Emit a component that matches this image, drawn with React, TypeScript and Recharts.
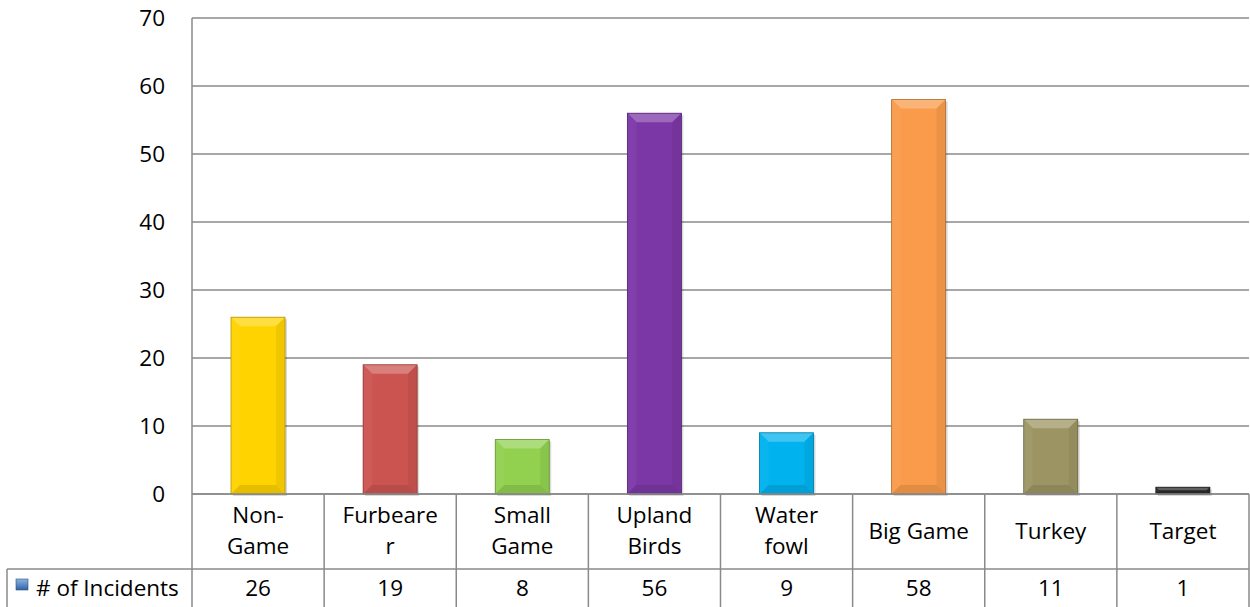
import { BarChart, Bar, XAxis, YAxis, CartesianGrid, Cell } from 'recharts'

const categories = [
  'Non-\nGame',
  'Furbeare\nr',
  'Small\nGame',
  'Upland\nBirds',
  'Water\nfowl',
  'Big Game',
  'Turkey',
  'Target',
]
const incidents = [26, 19, 8, 56, 9, 58, 11, 1]
const barColors = ['#FFD300', '#CC5450', '#92D050', '#7B37A6', '#00B2EE', '#F99B4A', '#9C9563', '#2B2B2B']
const yTicks = [0, 10, 20, 30, 40, 50, 60, 70]
const seriesName = '# of Incidents'

const W = 1250
const H = 607
const AXIS_W = 192
const TABLE_H = 113
const RIGHT = 1
const cellW = (W - AXIS_W - RIGHT) / categories.length
const FONT = '"Open Sans", sans-serif'
const LINE = '#8a8a8a'

const data = categories.map((c, i) => ({ name: c, value: incidents[i] }))

function mix(hex: string, target: number, amt: number) {
  const n = parseInt(hex.slice(1), 16)
  const ch = [(n >> 16) & 255, (n >> 8) & 255, n & 255].map((v) =>
    Math.round(v + (target - v) * amt),
  )
  return `rgb(${ch[0]},${ch[1]},${ch[2]})`
}

// Excel style bevel: light top edge, soft sides, slightly darker bottom
function BevelBar(props: any) {
  const { x, y, width: w, height: h, fill } = props
  if (!h || h <= 0) return null
  const b = Math.min(9, h / 2, w / 2)
  return (
    <g>
      <rect x={x + 2} y={y + 2} width={w} height={h} fill="#000" opacity={0.15} />
      <rect x={x} y={y} width={w} height={h} fill={fill} />
      <polygon
        points={`${x},${y} ${x + w},${y} ${x + w - b},${y + b} ${x + b},${y + b}`}
        fill={mix(fill, 255, 0.25)}
      />
      <polygon
        points={`${x},${y} ${x + b},${y + b} ${x + b},${y + h - b} ${x},${y + h}`}
        fill={mix(fill, 255, 0.04)}
      />
      <polygon
        points={`${x + w},${y} ${x + w - b},${y + b} ${x + w - b},${y + h - b} ${x + w},${y + h}`}
        fill={mix(fill, 0, 0.06)}
      />
      <polygon
        points={`${x},${y + h} ${x + b},${y + h - b} ${x + w - b},${y + h - b} ${x + w},${y + h}`}
        fill={mix(fill, 0, 0.1)}
      />
      <rect x={x} y={y} width={w} height={h} fill="none" stroke={mix(fill, 0, 0.3)} strokeWidth={0.8} />
    </g>
  )
}

function TableTick(props: any) {
  const { x, y, payload, index } = props
  const lines = String(payload.value).split('\n')
  const mid = y + 75
  const bot = y + TABLE_H
  const left = x - cellW / 2
  const right = x + cellW / 2
  const textY = lines.length === 1 ? [y + 37] : [y + 21, y + 52]
  return (
    <g>
      {lines.map((t, i) => (
        <text key={i} x={x} y={textY[i]} dy="0.35em" textAnchor="middle" fontSize={22.5} fontFamily={FONT} fill="#000">
          {t}
        </text>
      ))}
      <text x={x} y={mid + 19} dy="0.35em" textAnchor="middle" fontSize={22.5} fontFamily={FONT} fill="#000">
        {incidents[index]}
      </text>
      <line x1={left} y1={mid} x2={right} y2={mid} stroke={LINE} strokeWidth={1.5} />
      <line x1={right} y1={y} x2={right} y2={bot} stroke={LINE} strokeWidth={1.5} />
      {index === 0 && (
        <g>
          <line x1={left} y1={y} x2={left} y2={bot} stroke={LINE} strokeWidth={1.5} />
          <line x1={7} y1={mid} x2={left} y2={mid} stroke={LINE} strokeWidth={1.5} />
          <line x1={7} y1={mid} x2={7} y2={bot} stroke={LINE} strokeWidth={1.5} />
          <defs>
            <linearGradient id="keyGrad" x1="0" y1="0" x2="0" y2="1">
              <stop offset="0%" stopColor="#8DB3E2" />
              <stop offset="100%" stopColor="#2F64A8" />
            </linearGradient>
          </defs>
          <rect x={16} y={mid + 10} width={12} height={11} fill="url(#keyGrad)" stroke="#2A4F80" strokeWidth={0.6} />
          <text x={36} y={mid + 19} dy="0.35em" textAnchor="start" fontSize={22.5} fontFamily={FONT} fill="#000">
            {seriesName}
          </text>
        </g>
      )}
    </g>
  )
}

export default function App() {
  return (
    <div style={{ position: 'absolute', left: 0, top: 0, background: '#fff' }}>
      <BarChart
        width={W}
        height={H}
        data={data}
        margin={{ top: 18, right: RIGHT, left: 0, bottom: 0 }}
        barSize={54}
      >
        <CartesianGrid vertical={false} stroke={LINE} strokeWidth={1.5} />
        <XAxis
          dataKey="name"
          height={TABLE_H}
          axisLine={{ stroke: LINE, strokeWidth: 1.5 }}
          tickLine={false}
          tickSize={0}
          tickMargin={0}
          interval={0}
          tick={<TableTick />}
        />
        <YAxis
          width={AXIS_W}
          domain={[0, 70]}
          ticks={yTicks}
          axisLine={{ stroke: LINE, strokeWidth: 1.5 }}
          tickLine={false}
          tickSize={0}
          tickMargin={27}
          tick={{ fontSize: 22.5, fontFamily: FONT, fill: '#000' }}
        />
        <Bar dataKey="value" name={seriesName} shape={<BevelBar />} isAnimationActive={false}>
          {data.map((d, i) => (
            <Cell key={d.name} fill={barColors[i]} />
          ))}
        </Bar>
      </BarChart>
    </div>
  )
}
